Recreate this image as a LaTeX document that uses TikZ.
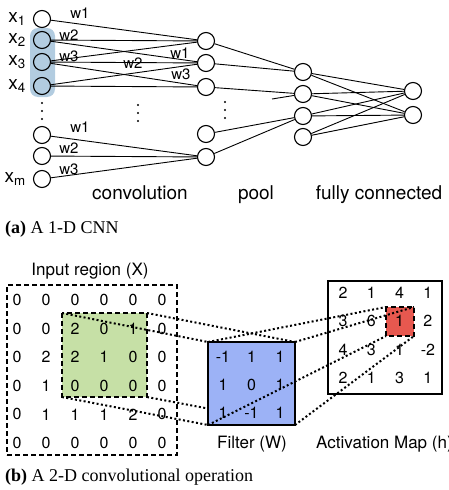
\documentclass[tikz,border=0pt]{standalone}
\usepackage{fontspec}
\setmainfont{Liberation Serif}
\setsansfont{TeX Gyre Heros}
\usepackage{xcolor}
\definecolor{HiBlue}{RGB}{178, 204, 224}
\definecolor{PatchGreen}{RGB}{198, 224, 166}
\definecolor{FilterBlue}{RGB}{156, 178, 246}
\definecolor{MapRed}{RGB}{231, 88, 79}
\usetikzlibrary{positioning}

\begin{document}
\begin{tikzpicture}[x=1pt, y=-1pt,
    neuron/.style={circle, draw, line width=1.1pt, minimum size=17pt, inner sep=0pt},
    link/.style={line width=0.9pt},
    xlabel/.style={font=\sffamily\fontsize{19}{22}\selectfont, inner sep=0pt},
    weight/.style={font=\sffamily\fontsize{15}{17}\selectfont, inner sep=0pt},
    layer/.style={font=\sffamily\fontsize{19}{22}\selectfont, anchor=base, inner sep=0pt},
    caption/.style={font=\rmfamily\fontsize{18}{21}\selectfont, anchor=base west, inner sep=0pt},
    num/.style={font=\sffamily\fontsize{16}{18}\selectfont, inner sep=0pt},
    box/.style={rectangle, inner sep=0pt, outer sep=0pt, line width=1.8pt},
    dashbox/.style={box, dash pattern=on 5pt off 3pt},
    proj/.style={line width=2pt, dash pattern=on 2pt off 2.4pt}
]
\useasboundingbox (0,0) rectangle (448,490);

% (a) 1-D CNN
\fill[HiBlue, rounded corners=8pt] (30,28) rectangle (55,97);

% Input neurons
\foreach \n/\y in {1/19, 2/40, 3/62, 4/86, 5/135, 6/156, 7/179}
    \node[neuron] (in\n) at (42,\y) {};
\foreach \n/\t in {1/1, 2/2, 3/3, 4/4, 7/m}
    \node[xlabel, left=7pt of in\n] (xl\n) {x\textsubscript{\t}};

% Convolution, pool and fully connected neurons
\foreach \n/\y in {1/41, 2/63, 3/87, 4/134, 5/157}
    \node[neuron] (cv\n) at (206,\y) {};
\foreach \n/\y in {1/72, 2/94, 3/116, 4/137}
    \node[neuron] (pl\n) at (303,\y) {};
\foreach \n/\y in {1/91, 2/115}
    \node[neuron] (fc\n) at (413,\y) {};

% Dots
\foreach \x/\y in {42/103, 138/105, 225/102} {
    \foreach \k in {0,1,2}
        \fill (\x,\y+8*\k) circle (1.1pt);
}

% Shared weights
\foreach \a/\b in {1/1, 2/1, 3/1, 2/2, 3/2, 4/2, 3/3, 4/3, 5/5, 6/5, 7/5}
    \draw[link] (in\a) -- (cv\b);
\node[weight] (w1a) at (80,13) {w1};
\node[weight] (w2a) at (69,35) {w2};
\node[weight] (w3a) at (69,56) {w3};
\node[weight] (w1b) at (180,53) {w1};
\node[weight] (w2b) at (133,63) {w2};
\node[weight] (w3b) at (181,74) {w3};
\node[weight] (w1c) at (80,127) {w1};
\node[weight] (w2c) at (69,148) {w2};
\node[weight] (w3c) at (69,169) {w3};

% Pooling
\foreach \a/\b in {1/1, 2/1, 3/2, 4/3, 5/3}
    \draw[link] (cv\a) -- (pl\b);
\coordinate (stub) at (272,99);
\draw[link] (stub) -- (pl2);

% Fully connected
\foreach \a in {1,...,4}
    \foreach \b in {1,2}
        \draw[link] (pl\a) -- (fc\b);

\node[layer] (conv) at (140,199) {convolution};
\node[layer] (pool) at (256,199) {pool};
\node[layer] (full) at (379,199) {fully connected};
\node[caption] (capa) at (5,233) {\textbf{(a)} A 1-D CNN};

% (b) 2-D convolution
\node[layer, font=\sffamily\fontsize{17}{20}\selectfont] (intitle) at (90,275) {Input region (X)};
\node[box, fill=PatchGreen, minimum width=85pt, minimum height=84pt] (patch) at (104.5,355) {};
\draw[dashbox] (patch.north west) rectangle (patch.south east);
\foreach \vals [count=\r] in {{0,0,0,0,0,0},{0,0,2,0,1,0},{0,2,2,1,0,0},{0,1,0,0,0,0},{0,1,1,1,2,0},{0,0,0,0,0,0}}
    \foreach \v [count=\c] in \vals
        \node[num] (x-\r-\c) at ({17+29*(\c-1)}, {300+28.6*(\r-1)}) {\v};
\node[dashbox, draw, minimum width=170pt, minimum height=170pt] (input) at (92,370) {};

% Patch to filter
\coordinate (fnw) at (208,342);
\coordinate (fne) at (295,342);
\coordinate (fsw) at (208,425);
\coordinate (fse) at (295,425);
\draw[proj] (patch.north west) -- (fnw);
\draw[proj] (patch.north east) -- (fne);
\draw[proj] (patch.south west) -- (fsw);
\draw[proj] (patch.south east) -- (fse);

% Filter
\node[box, draw, fill=FilterBlue, minimum width=87pt, minimum height=83pt] (filter) at (251.5,383.5) {};
\foreach \vals [count=\r] in {{-1,1,1},{1,0,1},{1,-1,1}}
    \foreach \v [count=\c] in \vals
        \node[num] (w-\r-\c) at ({223+28.5*(\c-1)}, {357+28*(\r-1)}) {\v};
\node[layer, font=\sffamily\fontsize{17}{20}\selectfont] (ftitle) at (252,448) {Filter (W)};

% Activation map
\node[box, draw, minimum width=114pt, minimum height=113pt] (amap) at (385,337.5) {};
\node[box, fill=MapRed, minimum width=28pt, minimum height=29pt] (hit) at (400,321.5) {};
\draw[dashbox] (hit.north west) rectangle (hit.south east);
\foreach \vals [count=\r] in {{2,1,4,1},{3,6,1,2},{4,3,1,-2},{2,1,3,1}}
    \foreach \v [count=\c] in \vals
        \node[num] (h-\r-\c) at ({343+28.3*(\c-1)}, {293+28.3*(\r-1)}) {\v};
\node[layer, anchor=base west, font=\sffamily\fontsize{17}{20}\selectfont] (atitle) at (316,448) {Activation Map (h)};

% Filter to output
\draw[proj] (fnw) -- (hit.north west);
\draw[proj] (fne) -- (hit.north east);
\draw[proj] (fsw) -- (hit.south west);
\draw[proj] (fse) -- (hit.south east);

\node[caption] (capb) at (5,481) {\textbf{(b)} A 2-D convolutional operation};
\end{tikzpicture}
\end{document}
